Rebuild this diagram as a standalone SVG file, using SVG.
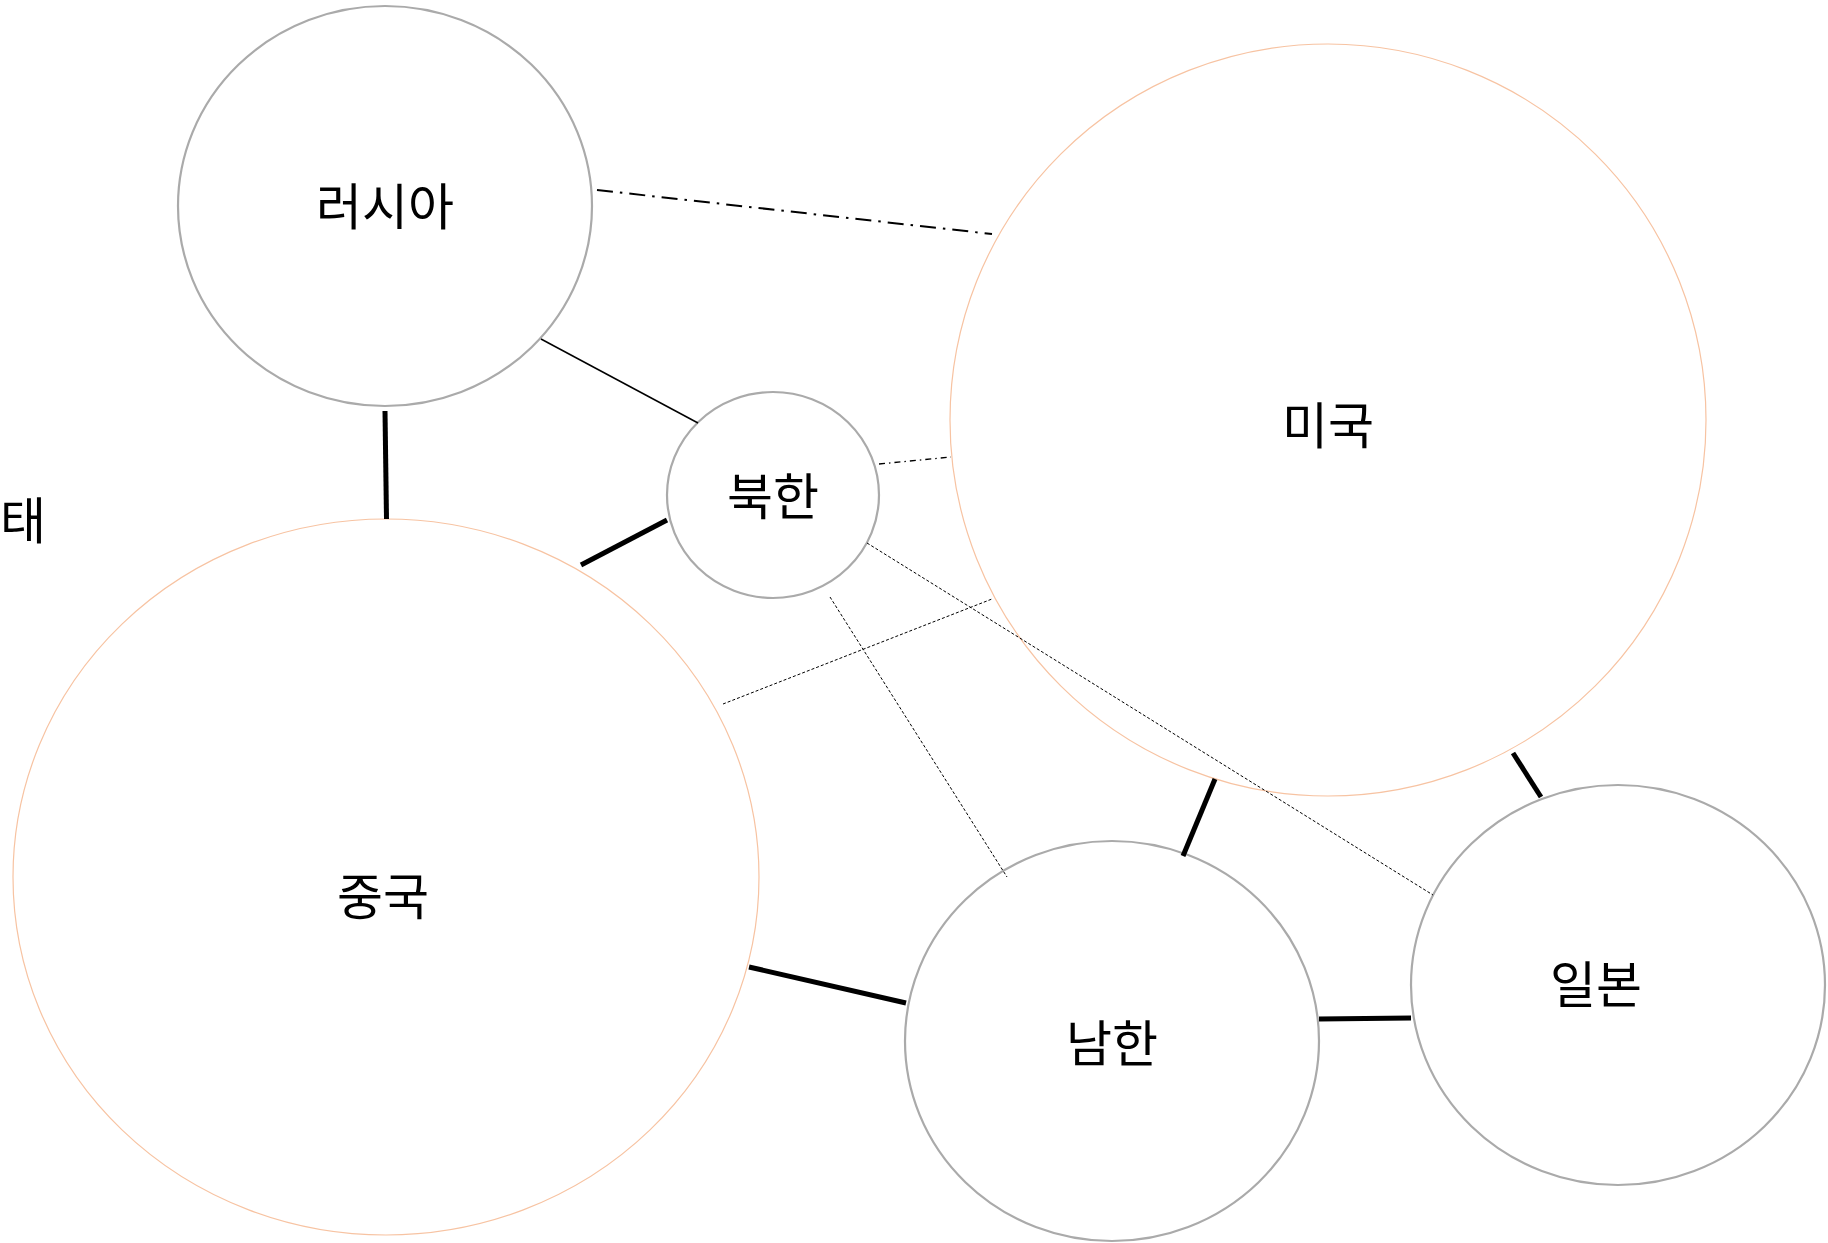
<svg xmlns="http://www.w3.org/2000/svg" width="1828" height="1243" viewBox="0 0 1828 1243">
<style>
.gray{fill:#ffffff;stroke:#aaaaaa;stroke-width:2.2}
.orange{fill:#ffffff;stroke:#f7c3a2;stroke-width:1.2}
.lbl{font-family:"Noto Sans CJK KR","Noto Sans",sans-serif;font-size:50px;fill:#000;text-anchor:middle}
.thick{stroke:#000;stroke-width:5;fill:none}
.thin{stroke:#000;stroke-width:1.5;fill:none}
.dash{stroke:#000;stroke-width:1;stroke-dasharray:3,2;fill:none}
.dashdot{stroke:#000;stroke-width:2;stroke-dasharray:16,7,2.5,7;fill:none}
.dashdot2{stroke:#000;stroke-width:1.3;stroke-dasharray:6,4,1.5,4;fill:none}
</style>
<rect width="1828" height="1243" fill="#ffffff"/>
<g id="nodes">
<g id="russia"><ellipse class="gray" cx="385" cy="206" rx="207" ry="200"/><text class="lbl" x="385" y="225">러시아</text></g>
<g id="usa"><ellipse class="orange" cx="1328" cy="420" rx="378" ry="376"/><text class="lbl" x="1328" y="444">미국</text></g>
<g id="china"><ellipse class="orange" cx="386" cy="877" rx="373" ry="358"/><text class="lbl" x="383" y="915">중국</text></g>
<g id="northkorea"><ellipse class="gray" cx="773" cy="495" rx="106" ry="103"/><text class="lbl" x="773" y="515">북한</text></g>
<g id="southkorea"><ellipse class="gray" cx="1112" cy="1041" rx="207" ry="200"/><text class="lbl" x="1112" y="1062">남한</text></g>
<g id="japan"><ellipse class="gray" cx="1618" cy="985" rx="207" ry="200"/><text class="lbl" x="1596" y="1003">일본</text></g>
</g>
<g id="connectors">
<line class="dashdot" x1="597" y1="190" x2="992" y2="234"/>
<line class="dashdot2" x1="879" y1="464" x2="951" y2="457"/>
<line class="thin" x1="541" y1="339" x2="698" y2="423"/>
<line class="thick" x1="385" y1="411" x2="386.5" y2="519"/>
<line class="thick" x1="581" y1="565" x2="667" y2="520"/>
<line class="dash" x1="723" y1="704" x2="992" y2="599"/>
<line class="dash" x1="830" y1="597" x2="1007" y2="877"/>
<line class="dash" x1="867" y1="543" x2="1433" y2="895"/>
<line class="thick" x1="749" y1="967" x2="906" y2="1003"/>
<line class="thick" x1="1215" y1="779" x2="1183" y2="856"/>
<line class="thick" x1="1513" y1="753" x2="1541" y2="797"/>
<line class="thick" x1="1319" y1="1019" x2="1411" y2="1018"/>
</g>
<text class="lbl" style="text-anchor:end" x="46" y="539">상태</text>
</svg>
